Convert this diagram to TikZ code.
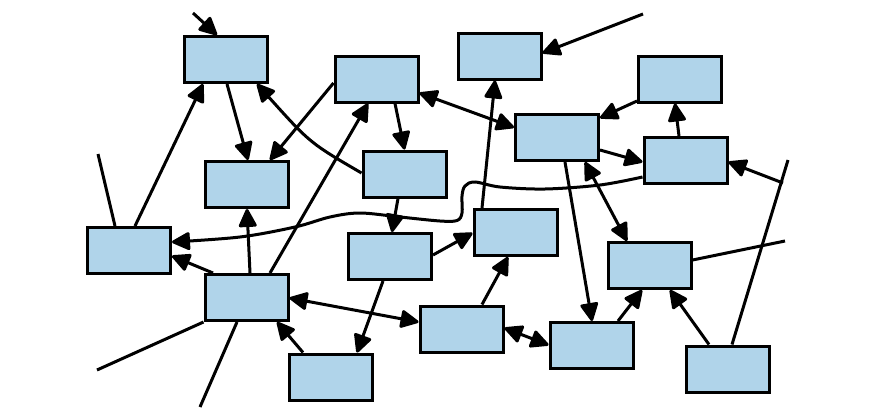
\documentclass[tikz,border=0pt]{standalone}
\usetikzlibrary{arrows.meta,calc}
\definecolor{boxblue}{RGB}{176,212,234}
\begin{document}
\begin{tikzpicture}[x=1pt,y=-1pt,
  box/.style={draw=black,fill=boxblue,line width=3pt,minimum width=83pt,minimum height=46pt,inner sep=0pt},
  ln/.style={line width=3pt,draw=black},
  arr/.style={ln,-{Triangle[length=20pt,width=19pt,round]}},
  darr/.style={ln,{Triangle[length=20pt,width=19pt,round]}-{Triangle[length=20pt,width=19pt,round]}}]
\useasboundingbox (0,0) rectangle (883,410);
\fill[white] (0,0) rectangle (883,410);
% nodes
\node[box] (A) at (226,59.5) {};
\node[box] (B) at (246.5,184.5) {};
\node[box] (C) at (376.5,79) {};
\node[box] (D) at (499.5,56) {};
\node[box] (E) at (557,137.5) {};
\node[box] (F) at (404.5,174) {};
\node[box] (G) at (680,79) {};
\node[box] (H) at (685.5,160.5) {};
\node[box] (I) at (129,250.5) {};
\node[box] (J) at (246.5,297.5) {};
\node[box] (K) at (331,377) {};
\node[box] (L) at (390,256.5) {};
\node[box] (M) at (515.5,232.5) {};
\node[box] (N) at (461.5,329) {};
\node[box] (O) at (591.5,345.5) {};
\node[box] (P) at (649.5,265.5) {};
\node[box] (Q) at (728,369) {};
% free ends
\coordinate (f1) at (193,13);
\coordinate (f3) at (98,154);
\coordinate (f10) at (643,14);
\coordinate (f15) at (783,183);
\coordinate (f16) at (788,160);
\coordinate (f20a) at (97,370);
\coordinate (f20b) at (200,407);
\coordinate (f32) at (785,241);
% curve anchors
\coordinate (hs) at ($(H)+(-43,16.5)$);
\coordinate (ie) at ($(I)+(43,-8.5)$);
% edges
\draw[arr] (f1) -- ($(A)+(-9,-24.5)$);
\draw[arr] ($(I)+(6,-24.5)$) -- ($(A)+(-23,24.5)$);
\draw[ln] (f3) -- ($(I)+(-14,-24.5)$);
\draw[arr] ($(A)+(1,24.5)$) -- ($(B)+(1.5,-24.5)$);
\draw[arr] ($(C)+(-43,4)$) -- ($(B)+(23.5,-24.5)$);
\draw[arr] ($(F)+(-43,-1)$) .. controls (310,143) .. ($(A)+(31,24.5)$);
\draw[arr] ($(J)+(23.5,-24.5)$) -- ($(C)+(-8.5,24.5)$);
\draw[arr] ($(C)+(18.5,24.5)$) -- ($(F)+(0,-24.5)$);
\draw[darr] ($(C)+(43,14)$) -- ($(E)+(-43,-10)$);
\draw[arr] (f10) -- ($(D)+(43,-3)$);
\draw[arr] ($(M)+(-33.5,-24.5)$) -- ($(D)+(-4.5,24.5)$);
\draw[arr] ($(G)+(-43,22)$) -- ($(E)+(43,-19.5)$);
\draw[arr] ($(H)+(-6.5,-24.5)$) -- ($(G)+(-5,24.5)$);
\draw[arr] ($(E)+(43,12.5)$) -- ($(H)+(-43,1.5)$);
\draw[arr] (f15) -- ($(H)+(43,1.5)$);
\draw[ln] (f16) -- ($(Q)+(4,-24.5)$);
\draw[arr] plot[smooth,tension=0.55] coordinates {(hs) (600,185) (545,189) (500,187) (475,182) (465,186) (462,196) (462,213) (457,220.5) (440,221) (400,217) (360,213) (330,217) (295,227) (240,237) (ie)};
\draw[arr] ($(J)+(3.5,-24.5)$) -- ($(B)+(0.5,24.5)$);
\draw[arr] ($(J)+(-33.5,-24.5)$) -- ($(I)+(43,5.5)$);
\draw[ln] (J.south west) -- (f20a);
\draw[ln] ($(J)+(-9.5,24.5)$) -- (f20b);
\draw[arr] ($(K)+(-28,-24.5)$) -- ($(J)+(30.5,24.5)$);
\draw[darr] ($(N)+(-43,-7)$) -- ($(J)+(43,0.5)$);
\draw[arr] ($(L)+(-7,24.5)$) -- ($(K)+(26,-24.5)$);
\draw[arr] ($(F)+(-6.5,24.5)$) -- ($(L)+(2,-24.5)$);
\draw[arr] ($(L)+(43,-1.5)$) -- ($(M)+(-43,0.5)$);
\draw[arr] ($(N)+(20.5,-24.5)$) -- ($(M)+(-7.5,24.5)$);
\draw[darr] ($(N)+(43,-1)$) -- ($(O)+(-43,-0.5)$);
\draw[arr] ($(E)+(8,24.5)$) -- ($(O)+(0.5,-24.5)$);
\draw[darr] ($(E)+(28,24.5)$) -- ($(P)+(-22.5,-24.5)$);
\draw[arr] ($(O)+(26.5,-24.5)$) -- ($(P)+(-7.5,24.5)$);
\draw[arr] ($(Q)+(-19,-24.5)$) -- ($(P)+(20.5,24.5)$);
\draw[ln] ($(P)+(43,-5.5)$) -- (f32);
\end{tikzpicture}
\end{document}
